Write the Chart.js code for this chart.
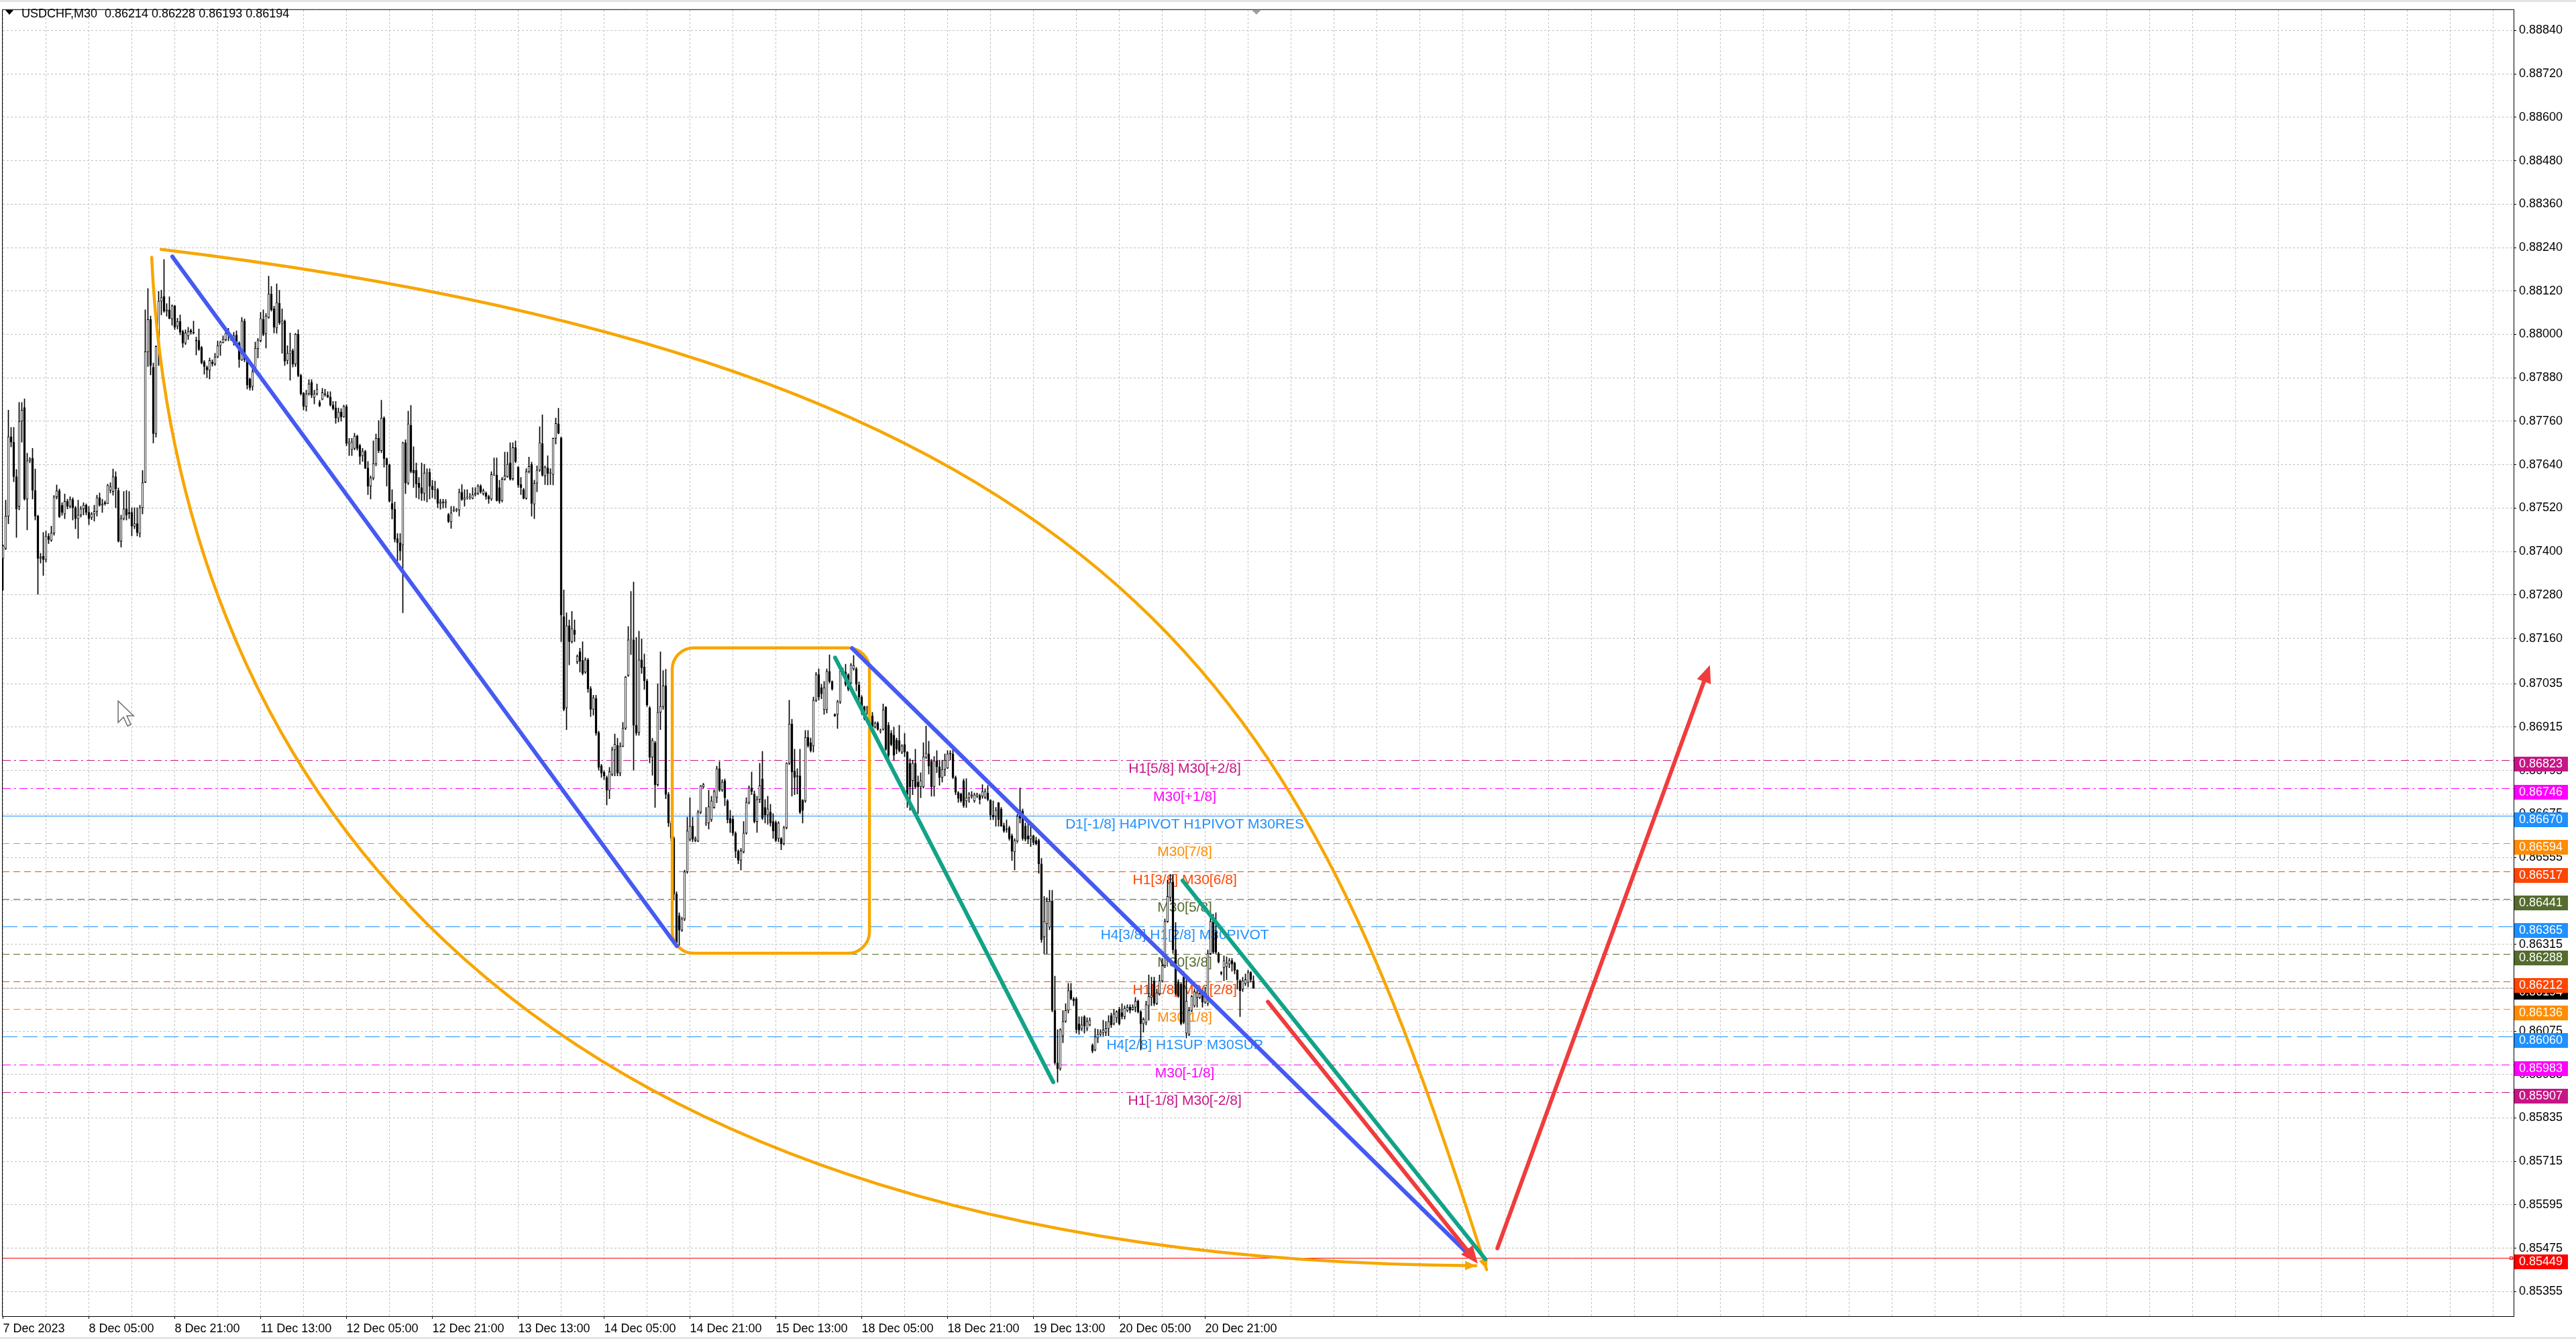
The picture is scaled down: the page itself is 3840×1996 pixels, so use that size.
<!DOCTYPE html>
<html>
<head>
<meta charset="utf-8">
<title>USDCHF,M30</title>
<script src="https://cdn.jsdelivr.net/npm/chart.js@4.4.0/dist/chart.umd.min.js"></script>
<style>
  html, body { margin: 0; padding: 0; background: #fff; }
  #wrap { width: 3840px; height: 1996px; }
</style>
</head>
<body>
<div id="wrap"><canvas id="chart" width="3840" height="1996"></canvas></div>
<script>
// USDCHF M30 – MT4 style candle chart with level lines and hand drawn objects
// ---------------------------------------------------------------
const FONT = "'Liberation Sans', Arial, sans-serif";
const PT = 1e-5; // bar prices are kept in points

const symbolName = 'USDCHF,M30';
const headerOHLC = ['0.86214', '0.86228', '0.86193', '0.86194'];

// time axis labels (bar number -> text)
const dateLabelBars = [0, 32, 64, 96, 128, 160, 192, 224, 256, 288, 320, 352, 384, 416, 448];
const dateLabels = ['7 Dec 2023', '8 Dec 05:00', '8 Dec 21:00', '11 Dec 13:00', '12 Dec 05:00', '12 Dec 21:00',
  '13 Dec 13:00', '14 Dec 05:00', '14 Dec 21:00', '15 Dec 13:00', '18 Dec 05:00', '18 Dec 21:00',
  '19 Dec 13:00', '20 Dec 05:00', '20 Dec 21:00'];

// price axis labels
const priceTicks = ['0.88840', '0.88720', '0.88600', '0.88480', '0.88360', '0.88240', '0.88120', '0.88000',
  '0.87880', '0.87760', '0.87640', '0.87520', '0.87400', '0.87280', '0.87160', '0.87035', '0.86915',
  '0.86795', '0.86675', '0.86555', '0.86435', '0.86315', '0.86195', '0.86075', '0.85955', '0.85835',
  '0.85715', '0.85595', '0.85475', '0.85355'];

// M30 candles, 7 Dec 13:00 onwards
const opens = [
  87381,87409,87498,87717,87702,87607,87525,87760,87798,87545,
  87651,87658,87569,87498,87381,87387,87378,87442,87431,87451,
  87551,87568,87528,87504,87539,87525,87544,87521,87491,87501,
  87518,87528,87508,87494,87504,87511,87549,87528,87535,87532,
  87569,87566,87607,87569,87429,87491,87518,87508,87508,87470,
  87477,87450,87521,87592,87952,88041,87909,87726,87969,88092,
  88105,88064,88068,88043,88079,88023,88036,88008,87976,87996,
  88011,88006,87983,87983,87964,87924,87909,87901,87924,87918,
  87938,87969,87977,87985,88000,87996,87990,87998,87976,87929,
  88037,87928,87877,87856,87897,87961,87983,88041,88002,88047,
  88112,88071,88018,88086,88030,88037,87928,87947,87955,87918,
  88001,87887,87838,87801,87836,87868,87826,87836,87812,87821,
  87836,87832,87827,87805,87797,87769,87786,87772,87801,87697,
  87682,87685,87719,87693,87665,87677,87631,87581,87603,87643,
  87713,87679,87769,87657,87640,87533,87517,87436,87424,87418,
  87701,87589,87749,87625,87624,87589,87577,87561,87617,87619,
  87581,87570,87571,87533,87537,87535,87502,87482,87513,87514,
  87515,87564,87544,87549,87549,87547,87557,87561,87581,87560,
  87561,87552,87545,87612,87611,87577,87541,87600,87607,87645,
  87601,87687,87633,87585,87571,87547,87621,87641,87531,87589,
  87625,87698,87609,87631,87616,87613,87713,87753,87714,87220,
  86968,87195,87151,87183,87095,87123,87099,87067,87101,87021,
  86964,86994,86900,86808,86790,86776,86740,86784,86852,86864,
  86788,86862,86912,87058,87156,87156,86920,86900,87101,87081,
  87042,86968,86832,86872,86756,86956,86972,87029,86729,86650,
  86608,86454,86394,86354,86385,86515,86605,86641,86602,86600,
  86680,86750,86648,86650,86659,86693,86721,86800,86741,86767,
  86711,86663,86660,86622,86572,86547,86570,86622,86707,86747,
  86730,86654,86715,86772,86693,86672,86680,86654,86652,86607,
  86607,86593,86637,86815,86924,86793,86778,86780,86713,86711,
  86887,86872,86863,86989,87060,87024,86963,86963,87069,87041,
  86950,86950,86985,87066,87067,87059,87037,87076,87076,87031,
  86998,86972,86967,86967,86946,86915,86926,86904,86909,86970,
  86920,86898,86893,86880,86878,86846,86867,86846,86815,86767,
  86815,86763,86750,86750,86831,86841,86820,86750,86822,86805,
  86776,86798,86802,86843,86841,86776,86734,86730,86767,86711,
  86720,86724,86711,86724,86726,86724,86721,86733,86713,86672,
  86669,86706,86689,86643,86633,86637,86615,86570,86600,86685,
  86683,86641,86615,86606,86615,86602,86602,86537,86335,86372,
  86362,86434,86132,85987,85971,86062,86102,86132,86187,86164,
  86164,86095,86082,86115,86082,86092,86036,86023,86056,86066,
  86071,86072,86082,86118,86095,86112,86135,86126,86115,86132,
  86141,86135,86141,86158,86128,86095,86099,86145,86168,86214,
  86151,86178,86214,86256,86378,86444,86487,86300,86210,86204,
  86224,86069,86066,86132,86145,86168,86168,86178,86155,86151,
  86289,86378,86349,86289,86237,86250,86253,86260,86270,86263,
  86243,86214,86191,86207,86210,86237,86214
];
const highs = [
  87419,87542,87791,87743,87743,87627,87812,87812,87822,87672,
  87660,87685,87628,87501,87395,87453,87457,87450,87470,87555,
  87584,87573,87535,87559,87545,87552,87549,87525,87542,87525,
  87535,87532,87525,87508,87528,87556,87562,87545,87540,87586,
  87590,87628,87621,87576,87501,87566,87569,87566,87521,87521,
  87521,87528,87624,88068,88127,88051,87921,87969,88119,88122,
  88207,88085,88104,88082,88080,88045,88054,88012,88013,88020,
  88015,88037,87993,88015,87967,87928,87913,87935,87930,87948,
  87982,87982,87996,88015,88017,88000,88006,88010,87980,88047,
  88043,87932,87880,87909,87979,87989,88061,88068,88058,88161,
  88133,88078,88140,88122,88071,88040,87969,88004,87960,88003,
  88013,87890,87840,87846,87875,87875,87846,87863,87818,87851,
  87849,87842,87842,87815,87815,87797,87795,87805,87806,87713,
  87713,87727,87722,87697,87685,87680,87649,87609,87706,87725,
  87762,87818,87773,87659,87642,87571,87537,87450,87450,87703,
  87709,87788,87804,87690,87645,87605,87645,87641,87629,87629,
  87597,87595,87575,87545,87545,87544,87506,87525,87525,87520,
  87573,87585,87571,87571,87561,87577,87577,87585,87585,87573,
  87565,87556,87621,87659,87659,87597,87605,87675,87675,87701,
  87701,87706,87635,87605,87575,87629,87661,87647,87597,87637,
  87745,87778,87637,87665,87629,87714,87769,87796,87717,87294,
  87231,87211,87235,87211,87115,87133,87151,87107,87105,87027,
  87003,87003,86904,86812,86795,86780,86804,86860,86896,86884,
  86872,86928,87055,87193,87290,87316,87163,87180,87159,87117,
  87047,86972,86884,86876,87035,87123,87071,87075,86735,86655,
  86612,86460,86402,86390,86520,86666,86720,86666,86612,86685,
  86754,86760,86693,86741,86724,86742,86807,86820,86770,86772,
  86715,86685,86670,86626,86576,86580,86654,86720,86753,86791,
  86739,86724,86815,86848,86715,86724,86702,86676,86656,86654,
  86610,86641,86817,86989,86937,86854,86800,86854,86715,86906,
  86906,86885,86998,87066,87076,87033,87041,87076,87115,87043,
  86952,86989,87076,87078,87089,87063,87091,87113,87080,87040,
  87002,86973,86973,86972,86956,86930,86930,86910,86979,86972,
  86928,86906,86915,86885,86920,86867,86898,86848,86828,86824,
  86854,86780,86789,86872,86918,86876,86826,86834,86850,86824,
  86824,86841,86850,86850,86854,86780,86737,86733,86772,86773,
  86735,86737,86733,86733,86730,86756,86745,86754,86715,86711,
  86693,86707,86693,86650,86659,86641,86620,86607,86674,86747,
  86689,86650,86650,86641,86617,86611,86606,86552,86447,86444,
  86464,86464,86227,86079,86082,86132,86151,86207,86207,86168,
  86168,86115,86115,86118,86112,86112,86040,86082,86080,86079,
  86105,86102,86118,86125,86135,86132,86141,86151,86145,86148,
  86148,86148,86168,86161,86132,86112,86158,86230,86224,86224,
  86191,86230,86276,86385,86493,86508,86508,86375,86217,86210,
  86240,86217,86141,86174,86191,86187,86184,86181,86197,86299,
  86398,86398,86402,86293,86240,86283,86280,86276,86276,86266,
  86245,86217,86224,86233,86243,86240,86228
];
const lows = [
  87293,87405,87477,87689,87593,87439,87515,87702,87542,87460,
  87645,87545,87487,87282,87368,87334,87371,87422,87428,87445,
  87545,87494,87500,87491,87518,87520,87487,87463,87436,87495,
  87501,87501,87474,87488,87484,87498,87525,87508,87528,87532,
  87562,87556,87521,87426,87412,87487,87487,87491,87443,87463,
  87443,87440,87504,87590,87911,87888,87700,87716,87914,88054,
  88061,88050,88043,88025,88013,88015,87999,87964,87972,87986,
  88000,88001,87943,87955,87918,87890,87880,87877,87912,87914,
  87935,87942,87976,87982,87982,87983,87970,87976,87909,87928,
  87924,87849,87846,87846,87894,87935,87979,87996,87962,88044,
  88064,88004,88003,88027,87948,87914,87918,87873,87910,87911,
  87883,87832,87791,87788,87832,87825,87808,87832,87800,87819,
  87829,87825,87802,87791,87754,87758,87760,87771,87692,87665,
  87665,87681,87680,87641,87649,87629,87557,87545,87598,87637,
  87673,87673,87633,87581,87537,87490,87426,87374,87376,87231,
  87560,87585,87617,87577,87549,87545,87541,87541,87537,87545,
  87549,87545,87521,87517,87520,87521,87480,87464,87510,87510,
  87498,87541,87525,87544,87544,87545,87553,87557,87561,87556,
  87544,87533,87541,87609,87539,87533,87537,87597,87605,87597,
  87597,87645,87577,87557,87545,87544,87617,87498,87491,87565,
  87621,87608,87585,87584,87585,87584,87697,87725,87151,86960,
  86908,87087,87147,87151,87090,87067,87059,87063,87011,86944,
  86948,86892,86796,86776,86770,86700,86717,86780,86780,86780,
  86780,86860,86908,87055,87115,86796,86892,86892,87063,87019,
  86972,86816,86782,86693,86752,86908,86964,86717,86640,86600,
  86437,86311,86307,86350,86380,86511,86600,86598,86598,86598,
  86676,86746,86643,86633,86654,86690,86706,86737,86737,86698,
  86650,86624,86615,86554,86537,86520,86567,86619,86702,86728,
  86650,86624,86706,86659,86650,86646,86641,86607,86598,86598,
  86576,86589,86633,86811,86724,86728,86730,86676,86650,86707,
  86859,86846,86846,86985,86989,86993,86950,86954,87037,87017,
  86944,86911,86980,87060,87028,87015,87033,87072,87015,86974,
  86950,86935,86950,86909,86911,86912,86906,86898,86906,86850,
  86828,86863,86824,86841,86846,86841,86833,86693,86685,86728,
  86746,86676,86720,86746,86828,86785,86724,86724,86789,86754,
  86763,86780,86800,86824,86772,86728,86707,86707,86693,86693,
  86707,86718,86707,86720,86702,86718,86717,86711,86659,86659,
  86641,86641,86641,86624,86624,86602,86546,86520,86596,86650,
  86602,86600,86593,86585,86589,86589,86511,86320,86289,86289,
  86355,86128,85984,85934,85967,86043,86099,86125,86161,86145,
  86069,86066,86076,86069,86076,86089,86015,86020,86043,86062,
  86062,86062,86062,86085,86092,86099,86092,86108,86108,86128,
  86125,86132,86128,86125,86023,86072,86092,86105,86145,86145,
  86148,86174,86210,86250,86375,86434,86290,86174,86168,86092,
  86095,86056,86062,86128,86141,86141,86164,86141,86151,86145,
  86286,86289,86289,86263,86230,86214,86217,86250,86240,86233,
  86191,86115,86184,86201,86197,86210,86193
];
const closes = [
  87416,87498,87717,87702,87607,87518,87760,87791,87545,87651,
  87656,87569,87498,87381,87385,87378,87443,87433,87451,87551,
  87568,87496,87508,87539,87525,87544,87521,87491,87501,87518,
  87528,87508,87491,87504,87511,87549,87528,87532,87532,87583,
  87579,87607,87573,87429,87491,87518,87501,87505,87470,87477,
  87453,87521,87590,87952,88041,87914,87726,87967,88092,88102,
  88064,88068,88044,88079,88020,88036,88006,87976,88004,88008,
  88006,88004,87982,87959,87922,87911,87902,87928,87919,87938,
  87969,87979,87987,88003,88003,87986,87996,87979,87931,88037,
  87931,87860,87853,87897,87962,87983,88044,88000,88051,88112,
  88068,88020,88088,88032,88037,87926,87948,87955,87918,88001,
  87886,87836,87801,87836,87863,87832,87836,87848,87803,87839,
  87834,87827,87805,87795,87769,87786,87772,87801,87699,87703,
  87703,87719,87685,87663,87677,87631,87581,87603,87643,87713,
  87679,87769,87657,87640,87539,87517,87434,87424,87402,87701,
  87589,87753,87621,87617,87587,87577,87561,87617,87617,87581,
  87571,87572,87533,87537,87535,87536,87483,87507,87515,87516,
  87564,87544,87549,87549,87550,87557,87561,87581,87565,87568,
  87552,87545,87613,87613,87541,87539,87600,87609,87641,87600,
  87687,87649,87584,87577,87547,87621,87635,87533,87589,87625,
  87701,87611,87633,87616,87616,87713,87754,87727,87225,86964,
  87195,87151,87187,87171,87111,87097,87063,87101,87021,86964,
  86996,86898,86804,86788,86780,86740,86792,86852,86868,86788,
  86862,86912,87053,87156,87158,86920,86898,87101,87079,87043,
  86976,86832,86878,86756,86956,86972,87029,86729,86650,86608,
  86454,86320,86354,86385,86515,86628,86641,86605,86606,86680,
  86753,86756,86650,86695,86711,86737,86800,86741,86763,86720,
  86659,86650,86622,86572,86547,86573,86622,86707,86747,86737,
  86654,86715,86753,86663,86672,86689,86650,86628,86602,86650,
  86593,86637,86815,86924,86791,86776,86781,86680,86685,86887,
  86863,86850,86989,87060,86998,87007,87024,87069,87041,87020,
  86946,86985,87069,87072,87033,87020,87087,87085,87033,86998,
  86959,86939,86968,86924,86915,86926,86909,86904,86963,86854,
  86837,86867,86837,86854,86850,86863,86846,86728,86750,86815,
  86750,86750,86767,86833,86843,86807,86750,86822,86805,86776,
  86798,86824,86841,86841,86776,86735,86718,86711,86698,86720,
  86730,86728,86728,86730,86715,86737,86737,86715,86672,86667,
  86685,86659,86641,86628,86632,86607,86572,86602,86669,86663,
  86607,86605,86606,86615,86596,86593,86537,86328,86378,86434,
  86434,86132,85987,85971,86079,86102,86132,86187,86164,86158,
  86079,86078,86092,86089,86102,86105,86020,86059,86066,86072,
  86078,86082,86102,86092,86122,86128,86095,86115,86138,86141,
  86132,86141,86158,86128,86095,86108,86148,86171,86174,86151,
  86181,86214,86256,86378,86447,86487,86300,86178,86171,86096,
  86099,86158,86132,86171,86184,86181,86178,86155,86178,86289,
  86378,86293,86293,86266,86234,86270,86263,86270,86260,86243,
  86217,86187,86214,86217,86237,86217,86194
];

// horizontal levels (murrey / pivot)
const levelPrices = [0.86823, 0.86746, 0.86670, 0.86594, 0.86517, 0.86441, 0.86365,
  0.86288, 0.86212, 0.86136, 0.86060, 0.85983, 0.85907];
const levelNames = ['H1[5/8] M30[+2/8]', 'M30[+1/8]', 'D1[-1/8] H4PIVOT H1PIVOT M30RES', 'M30[7/8]',
  'H1[3/8] M30[6/8]', 'M30[5/8]', 'H4[3/8] H1[2/8] M30PIVOT', 'M30[3/8]', 'H1[1/8] M30[2/8]',
  'M30[1/8]', 'H4[2/8] H1SUP M30SUP', 'M30[-1/8]', 'H1[-1/8] M30[-2/8]'];
const bidPrice = 0.86194;
const alertPrice = 0.85449;

// hand drawn objects, anchors as [bar, price]
const blueTrend1 = [[63.1, 0.88215], [251.1, 0.86310]];
const blueTrend2 = [[316.4, 0.87133], [547.4, 0.85449]];
const greenTrend1 = [[310.1, 0.87107], [391.4, 0.85934]];
const greenTrend2 = [[439.6, 0.86491], [552.4, 0.85445]];
const redArrowDown = [[471.4, 0.86156], [549.6, 0.85433]];
const redArrowUp = [[556.9, 0.85475], [636.1, 0.87086]];
const upperArc = [[58.9, 0.88235], [433.9, 0.87900], [488.1, 0.86908], [552.9, 0.85416]];
const lowerArc = [[55.4, 0.88213], [63.9, 0.86876], [173.9, 0.85439], [548.9, 0.85427]];
const rangeBox = [[249.4, 0.87134], [322.9, 0.86290]];
const cursorAt = [42.9, 0.86987];

// ---------------------------------------------------------------
// styles
const levelStyles = [
  { color: '#C71585', dash: [12, 5, 3, 5] },
  { color: '#FF00FF', dash: [12, 5, 3, 5] },
  { color: '#1E90FF', dash: [] },
  { color: '#FF8C00', dash: [10, 6] },
  { color: '#FF4500', dash: [10, 6] },
  { color: '#556B2F', dash: [10, 6] },
  { color: '#1E90FF', dash: [22, 8] },
  { color: '#556B2F', dash: [10, 6] },
  { color: '#FF4500', dash: [10, 6] },
  { color: '#FF8C00', dash: [10, 6] },
  { color: '#1E90FF', dash: [22, 8] },
  { color: '#FF00FF', dash: [12, 5, 3, 5] },
  { color: '#C71585', dash: [12, 5, 3, 5] }
];
const LEVEL_LABEL_BAR = 440.4;
const BLUE = '#465AF2', GREEN = '#12A387', RED = '#F03C3C', ORANGE = '#F7A600';
const GRID_STEP = 16;
const X_MIN = -0.125, X_MAX = 935.625;
const Y_MIN = 0.852873, Y_MAX = 0.888966;

const gridBars = [];
for (let b = 0; b <= X_MAX; b += GRID_STEP) gridBars.push(b);

const bars = closes.map((c, i) => i);
const wickData = bars.map(i => ({ x: i, y: [lows[i] * PT, highs[i] * PT] }));
const bodyData = bars.map(i => ({ x: i, y: [opens[i] * PT, closes[i] * PT] }));
const bodyFill = bars.map(i => closes[i] >= opens[i] ? '#ffffff' : '#000000');

// helpers ---------------------------------------------------------
function px(chart, p) {
  return [chart.scales.x.getPixelForValue(p[0]), chart.scales.y.getPixelForValue(p[1])];
}
function clipArea(ctx, a) {
  ctx.beginPath();
  ctx.rect(a.left, a.top, a.right - a.left, a.bottom - a.top);
  ctx.clip();
}
function arrowHead(ctx, tip, from, len, half, color) {
  const ang = Math.atan2(tip[1] - from[1], tip[0] - from[0]);
  const bx = tip[0] - len * Math.cos(ang), by = tip[1] - len * Math.sin(ang);
  ctx.fillStyle = color;
  ctx.beginPath();
  ctx.moveTo(tip[0], tip[1]);
  ctx.lineTo(bx + half * Math.sin(ang), by - half * Math.cos(ang));
  ctx.lineTo(bx - half * Math.sin(ang), by + half * Math.cos(ang));
  ctx.closePath();
  ctx.fill();
}
function trend(chart, pts, color, w, head) {
  const ctx = chart.ctx;
  const a = px(chart, pts[0]), b = px(chart, pts[1]);
  let end = b;
  if (head) {
    const ang = Math.atan2(b[1] - a[1], b[0] - a[0]);
    end = [b[0] - head[0] * 0.7 * Math.cos(ang), b[1] - head[0] * 0.7 * Math.sin(ang)];
  }
  ctx.strokeStyle = color;
  ctx.lineWidth = w;
  ctx.lineCap = 'round';
  ctx.beginPath();
  ctx.moveTo(a[0], a[1]);
  ctx.lineTo(end[0], end[1]);
  ctx.stroke();
  if (head) arrowHead(ctx, b, a, head[0], head[1], color);
}
function arc(chart, pts, color, w) {
  const ctx = chart.ctx;
  const p = pts.map(q => px(chart, q));
  ctx.strokeStyle = color;
  ctx.lineWidth = w;
  ctx.lineCap = 'round';
  ctx.beginPath();
  ctx.moveTo(p[0][0], p[0][1]);
  ctx.bezierCurveTo(p[1][0], p[1][1], p[2][0], p[2][1], p[3][0], p[3][1]);
  ctx.stroke();
  arrowHead(ctx, p[3], p[2], 16, 7, color);
}
function roundBox(chart, pts, r, color, w) {
  const ctx = chart.ctx;
  const [x1, y1] = px(chart, pts[0]);
  const [x2, y2] = px(chart, pts[1]);
  ctx.strokeStyle = color;
  ctx.lineWidth = w;
  ctx.beginPath();
  ctx.moveTo(x1 + r, y1);
  ctx.arcTo(x2, y1, x2, y2, r);
  ctx.arcTo(x2, y2, x1, y2, r);
  ctx.arcTo(x1, y2, x1, y1, r);
  ctx.arcTo(x1, y1, x2, y1, r);
  ctx.closePath();
  ctx.stroke();
}
function hline(ctx, a, y, color, dash) {
  ctx.strokeStyle = color;
  ctx.lineWidth = 1;
  ctx.setLineDash(dash);
  ctx.beginPath();
  ctx.moveTo(a.left, y);
  ctx.lineTo(a.right, y);
  ctx.stroke();
  ctx.setLineDash([]);
}
function priceBox(ctx, a, y, color, text) {
  ctx.fillStyle = color;
  ctx.fillRect(a.right + 1, y - 5, 80, 22);
  ctx.fillStyle = '#ffffff';
  ctx.font = '18px ' + FONT;
  ctx.textAlign = 'left';
  ctx.textBaseline = 'middle';
  ctx.fillText(text, 3755, y + 6.5);
}

// plugin: levels under the candles, objects over them, frame and labels last
const mt4Plugin = {
  id: 'mt4',
  beforeDatasetsDraw(chart) {
    const { ctx, chartArea: a, scales: { x, y } } = chart;
    ctx.save();
    clipArea(ctx, a);
    hline(ctx, a, Math.round(y.getPixelForValue(bidPrice)) + 0.5, '#C0C0C0', []);
    levelPrices.forEach((p, i) => {
      hline(ctx, a, Math.round(y.getPixelForValue(p)) + 0.5, levelStyles[i].color, levelStyles[i].dash);
    });
    const ay = Math.round(y.getPixelForValue(alertPrice)) + 0.5;
    hline(ctx, a, ay, '#FF0000', []);
    ctx.strokeStyle = '#FF0000';
    ctx.strokeRect(a.right - 5.5, ay - 2, 4, 4);
    ctx.font = '21px ' + FONT;
    ctx.textAlign = 'center';
    ctx.textBaseline = 'alphabetic';
    const lx = x.getPixelForValue(LEVEL_LABEL_BAR);
    levelNames.forEach((t, i) => {
      ctx.fillStyle = levelStyles[i].color;
      ctx.fillText(t, lx, y.getPixelForValue(levelPrices[i]) + 19);
    });
    ctx.restore();
  },
  afterDatasetsDraw(chart) {
    const { ctx, chartArea: a } = chart;
    ctx.save();
    clipArea(ctx, a);
    roundBox(chart, rangeBox, 32, ORANGE, 4.5);
    arc(chart, upperArc, ORANGE, 4.5);
    arc(chart, lowerArc, ORANGE, 4.5);
    trend(chart, blueTrend1, BLUE, 6);
    trend(chart, blueTrend2, BLUE, 6);
    trend(chart, greenTrend1, GREEN, 6);
    trend(chart, greenTrend2, GREEN, 6);
    trend(chart, redArrowDown, RED, 6, [26, 11]);
    trend(chart, redArrowUp, RED, 6, [26, 11]);
    // mouse pointer left on the chart
    const [cx, cy] = px(chart, cursorAt);
    const shape = [[0, 0], [0, 32], [8, 24], [14, 37], [19, 35], [13, 22], [23, 22]];
    ctx.beginPath();
    shape.forEach((s, i) => i ? ctx.lineTo(cx + s[0], cy + s[1]) : ctx.moveTo(cx + s[0], cy + s[1]));
    ctx.closePath();
    ctx.fillStyle = '#ffffff';
    ctx.fill();
    ctx.strokeStyle = '#6b6b6b';
    ctx.lineWidth = 1.5;
    ctx.stroke();
    ctx.restore();
  },
  afterDraw(chart) {
    const { ctx, chartArea: a, scales: { x, y } } = chart;
    ctx.save();
    // window edges and chart frame
    ctx.fillStyle = '#E3E3E3';
    ctx.fillRect(0, 0, 3840, 3);
    ctx.fillRect(0, 1993, 3840, 3);
    ctx.strokeStyle = '#000';
    ctx.lineWidth = 1;
    ctx.beginPath();
    ctx.moveTo(a.left - 0.5, a.bottom + 0.5);
    ctx.lineTo(a.left - 0.5, a.top - 0.5);
    ctx.lineTo(a.right + 0.5, a.top - 0.5);
    ctx.lineTo(a.right + 0.5, a.bottom + 0.5);
    ctx.lineTo(a.left - 0.5, a.bottom + 0.5);
    ctx.stroke();
    // chart shift marker
    const sx = x.getPixelForValue(closes.length + 0.1);
    ctx.fillStyle = '#A0A0A0';
    ctx.beginPath();
    ctx.moveTo(sx - 7, a.top);
    ctx.lineTo(sx + 7, a.top);
    ctx.lineTo(sx, a.top + 7);
    ctx.closePath();
    ctx.fill();
    // header
    ctx.fillStyle = '#000';
    ctx.beginPath();
    ctx.moveTo(8, 15);
    ctx.lineTo(20, 15);
    ctx.lineTo(14, 22);
    ctx.closePath();
    ctx.fill();
    ctx.font = '18px ' + FONT;
    ctx.textAlign = 'left';
    ctx.textBaseline = 'alphabetic';
    ctx.fillText(symbolName, 32, 26);
    ctx.fillText(headerOHLC.join(' '), 156, 26);
    // price boxes on the axis
    priceBox(ctx, a, Math.round(y.getPixelForValue(bidPrice)), '#000000', bidPrice.toFixed(5));
    levelPrices.forEach((p, i) => {
      priceBox(ctx, a, Math.round(y.getPixelForValue(p)), levelStyles[i].color, p.toFixed(5));
    });
    priceBox(ctx, a, Math.round(y.getPixelForValue(alertPrice)), '#FF0000', alertPrice.toFixed(5));
    ctx.restore();
  }
};

Chart.defaults.font.family = FONT;
Chart.defaults.color = '#000';

new Chart(document.getElementById('chart'), {
  type: 'bar',
  data: {
    datasets: [
      { label: 'wicks', data: wickData, backgroundColor: '#000', barThickness: 1,
        grouped: false, order: 2, borderWidth: 0 },
      { label: 'bodies', data: bodyData, backgroundColor: bodyFill, borderColor: '#000', borderWidth: 1,
        borderSkipped: false, barThickness: 3, minBarLength: 1, grouped: false, order: 1 }
    ]
  },
  options: {
    responsive: false,
    animation: false,
    devicePixelRatio: 1,
    events: [],
    layout: { padding: { left: 4, top: 4, right: 0, bottom: 0 } },
    plugins: { legend: { display: false }, tooltip: { enabled: false } },
    scales: {
      x: {
        type: 'linear', min: X_MIN, max: X_MAX, offset: false,
        afterBuildTicks: s => { s.ticks = gridBars.map(v => ({ value: v })); },
        afterFit: s => { s.height = 34; },
        grid: { color: '#C0C0C0', lineWidth: 1, offset: false, tickLength: 4,
          tickColor: c => (c.tick && dateLabelBars.includes(c.tick.value)) ? '#000' : 'rgba(0,0,0,0)' },
        border: { display: true, color: '#000', dash: [3, 3] },
        ticks: {
          autoSkip: false, maxRotation: 0, minRotation: 0, align: 'start', padding: 4,
          font: { size: 18 }, color: '#000',
          callback: v => { const k = dateLabelBars.indexOf(v); return k >= 0 ? dateLabels[k] : ''; }
        }
      },
      y: {
        type: 'linear', position: 'right', min: Y_MIN, max: Y_MAX,
        afterBuildTicks: s => { s.ticks = priceTicks.map(t => ({ value: parseFloat(t) })); },
        afterFit: s => { s.width = 93; },
        grid: { color: '#C0C0C0', lineWidth: 1, tickLength: 4, tickColor: '#000' },
        border: { display: true, color: '#000', dash: [3, 3] },
        ticks: {
          autoSkip: false, padding: 4, font: { size: 18 }, color: '#000',
          callback: v => { const k = priceTicks.findIndex(t => Math.abs(parseFloat(t) - v) < 1e-7); return k >= 0 ? priceTicks[k] : ''; }
        }
      }
    }
  },
  plugins: [mt4Plugin]
});
</script>
</body>
</html>
